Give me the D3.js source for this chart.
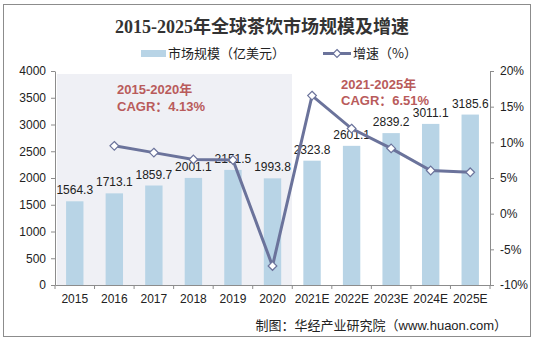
<!DOCTYPE html>
<html><head><meta charset="utf-8">
<script src="https://cdn.jsdelivr.net/npm/d3@7"></script>
<style>body{margin:0;background:#fff}svg{display:block}</style>
</head><body>
<script>
const categories = ["2015","2016","2017","2018","2019","2020","2021E","2022E","2023E","2024E","2025E"];
const marketSize = [1564.3,1713.1,1859.7,2001.1,2151.5,1993.8,2323.8,2601.1,2839.2,3011.1,3185.6];
const growth = [null,9.51,8.56,7.60,7.52,-7.33,16.55,11.93,9.15,6.05,5.80];
const leftTicks = [0,500,1000,1500,2000,2500,3000,3500,4000];
const rightTicks = [-10,-5,0,5,10,15,20];

const W=535,H=340;
const svg=d3.select("body").append("svg").attr("width",W).attr("height",H);
svg.append("rect").attr("x",3.5).attr("y",4.5).attr("width",527).attr("height",332)
  .attr("fill","#fff").attr("stroke","#8c8c8c").attr("stroke-width",1);

const x=d3.scaleBand().domain(categories).range([55,490]).paddingInner(0.56).paddingOuter(0.28);
const yL=d3.scaleLinear().domain([0,4000]).range([285,71]);
const yR=d3.scaleLinear().domain([-10,20]).range([285,71]);

// shaded region 2015-2020
svg.append("rect").attr("x",57).attr("y",74).attr("width",235).attr("height",211).attr("fill","#eff0f5");

// bars
svg.append("g").selectAll("rect").data(marketSize).join("rect")
  .attr("x",(d,i)=>x(categories[i])).attr("width",x.bandwidth())
  .attr("y",d=>yL(d)).attr("height",d=>yL(0)-yL(d)).attr("fill","#b8d4e6");

// axes
const axisColor="#8c8c8c";
const gl=svg.append("g").attr("transform","translate(55,0)")
  .call(d3.axisLeft(yL).tickValues(leftTicks).tickFormat(d3.format("d")).tickSize(4).tickSizeOuter(0).tickPadding(5));
const gr=svg.append("g").attr("transform","translate(490,0)")
  .call(d3.axisRight(yR).tickValues(rightTicks).tickFormat(d=>d+"%").tickSize(4).tickSizeOuter(0).tickPadding(6));
const gx=svg.append("g").attr("transform","translate(0,285)")
  .call(d3.axisBottom(x).tickSize(0).tickSizeOuter(0).tickPadding(9));
const bounds=d3.range(categories.length+1).map(i=>55+i*(435/categories.length));
gx.selectAll("line.b").data(bounds).join("line").attr("class","b")
  .attr("x1",d=>d).attr("x2",d=>d).attr("y1",0).attr("y2",4).attr("stroke",axisColor);
[gl,gr,gx].forEach(g=>{
  g.selectAll("path,line").attr("stroke",axisColor);
  g.selectAll("text").attr("fill","#222").style("font-family","Arial, 'Liberation Sans', sans-serif").style("font-size","12px");
});

// bar labels
svg.append("g").selectAll("text").data(marketSize).join("text")
  .attr("x",(d,i)=>x(categories[i])+x.bandwidth()/2).attr("y",d=>yL(d)-7)
  .attr("text-anchor","middle").attr("fill","#222")
  .style("font-family","Arial, 'Liberation Sans', sans-serif").style("font-size","12px")
  .text(d=>d.toFixed(1));

// growth line
const pts=growth.map((g,i)=>({g,c:categories[i]})).filter(d=>d.g!==null);
const lineColor="#6b739b";
svg.append("path").datum(pts)
  .attr("d",d3.line().x(d=>x(d.c)+x.bandwidth()/2).y(d=>yR(d.g)))
  .attr("fill","none").attr("stroke",lineColor).attr("stroke-width",3);
svg.append("g").selectAll("path").data(pts).join("path")
  .attr("transform",d=>`translate(${x(d.c)+x.bandwidth()/2},${yR(d.g)})`)
  .attr("d",d3.symbol(d3.symbolDiamond2,48)())
  .attr("fill","#fff").attr("stroke",lineColor).attr("stroke-width",1.2);

// title
svg.append("text").attr("x",262).attr("y",33).attr("text-anchor","middle")
  .style("font-family","'Liberation Serif','Noto Sans CJK SC',serif").style("font-size","18px").style("font-weight","bold")
  .attr("fill","#333").text("2015-2025年全球茶饮市场规模及增速");

// legend
const lg=svg.append("g");
lg.append("rect").attr("x",141).attr("y",50).attr("width",25).attr("height",7).attr("fill","#b8d4e6");
lg.append("text").attr("x",168).attr("y",58).text("市场规模（亿美元）");
lg.append("line").attr("x1",323).attr("x2",351).attr("y1",53.5).attr("y2",53.5).attr("stroke",lineColor).attr("stroke-width",3);
lg.append("path").attr("transform","translate(337,53.5)").attr("d",d3.symbol(d3.symbolDiamond2,40)())
  .attr("fill","#fff").attr("stroke",lineColor).attr("stroke-width",1.2);
lg.append("text").attr("x",353).attr("y",58).text("增速（%）");
lg.selectAll("text").style("font-family","'Noto Sans CJK SC',sans-serif").style("font-size","13px").attr("fill","#222");

// CAGR annotations
const ann=[{x:117,y:94,t:"2015-2020年"},{x:117,y:111,t:"CAGR：4.13%"},{x:341,y:89,t:"2021-2025年"},{x:341,y:105,t:"CAGR：6.51%"}];
svg.append("g").selectAll("text").data(ann).join("text")
  .attr("x",d=>d.x).attr("y",d=>d.y).text(d=>d.t)
  .style("font-family","Arial,'Liberation Sans','Noto Sans CJK SC',sans-serif").style("font-size","13px").style("font-weight","bold")
  .attr("fill","#b95b5b");

// source
svg.append("text").attr("x",507).attr("y",330).attr("text-anchor","end")
  .style("font-family","Arial,'Liberation Sans','Noto Sans CJK SC',sans-serif").style("font-size","13px")
  .attr("fill","#222").text("制图：华经产业研究院（www.huaon.com）");
</script>
</body></html>
